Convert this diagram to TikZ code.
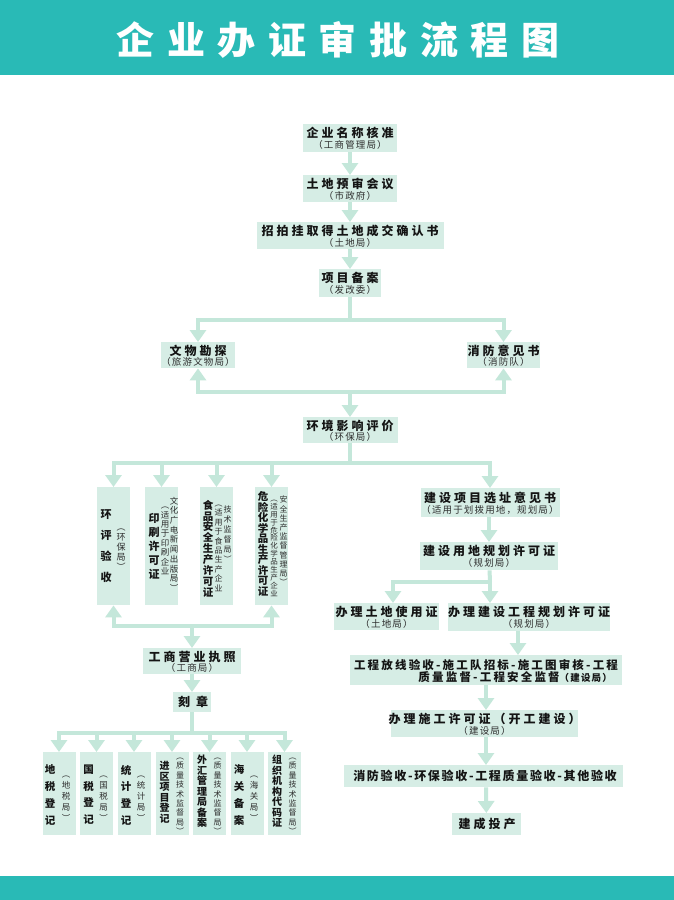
\documentclass[tikz,border=0pt]{standalone}
\usepackage{fontspec}
\usetikzlibrary{arrows.meta}
\newfontfamily\cjk{Noto Sans CJK SC}
\definecolor{bandc}{RGB}{41,186,182}
\definecolor{boxc}{RGB}{214,237,229}
\definecolor{arrc}{RGB}{196,231,218}
\definecolor{mainc}{RGB}{20,20,20}
\definecolor{subc}{RGB}{45,45,45}
\newcommand\fm[2]{\cjk\bfseries\fontsize{#1}{#1}\selectfont\addfontfeature{LetterSpace=#2}}
\newcommand\fs[2]{\cjk\fontsize{#1}{#1}\selectfont\addfontfeature{LetterSpace=#2}}
\newcommand\vfm[2]{\cjk\bfseries\fontsize{#1}{#2}\selectfont\lineskiplimit=-50pt\lineskip=0pt\relax}
\newcommand\vfs[2]{\cjk\fontsize{#1}{#2}\selectfont\lineskiplimit=-50pt\lineskip=0pt\relax}
\tikzset{
  boxs/.style={fill=boxc, draw=none, inner sep=0pt, rectangle},
  mtxt/.style={inner sep=0pt, text=mainc, font=\fm{12}{25}},
  stxt/.style={inner sep=0pt, text=subc, font=\fs{9.5}{12}},
  vtxt/.style={inner sep=0pt, align=center},
  ln/.style={draw=arrc, line width=4pt},
  arr/.style={draw=arrc, line width=4pt, -{Triangle[width=16pt,length=12pt]}},
}
% name, cx, top, w, h, main, sub
\newcommand\hbx[7]{%
  \node[boxs, minimum width=#4pt, minimum height=#5pt, anchor=north] (#1) at (#2,#3) {};
  \node[mtxt] (#1m) at (#2,{#3+0.33*#5}) {#6};
  \node[stxt] (#1s) at (#2,{#3+0.76*#5}) {#7};
}
% name, x, first char centre, font size, pitch, text
\newcommand\vcm[6]{\node[vtxt, text=mainc, font=\vfm{#4}{#5}, anchor=north] (#1) at (#2,{#3-0.5*#4}) {\vphantom{国}#6};}
\newcommand\vcs[6]{\node[vtxt, text=subc, font=\vfs{#4}{#5}, anchor=north] (#1) at (#2,{#3-0.5*#4}) {\vphantom{国}#6};}
% name, cx, top, w, h
\newcommand\vbx[5]{\node[boxs, minimum width=#4pt, minimum height=#5pt, anchor=north] (#1) at (#2,#3) {};}

\begin{document}
\begin{tikzpicture}[x=1pt,y=-1pt]
\useasboundingbox (0,0) rectangle (674,900);
\fill[white] (0,0) rectangle (674,900);
\node[fill=bandc, inner sep=0pt, minimum width=674pt, minimum height=75pt, anchor=north west] (band) at (0,0) {};
\node[fill=bandc, inner sep=0pt, minimum width=674pt, minimum height=24pt, anchor=north west] (bandb) at (0,876) {};
\node[inner sep=0pt, text=white, font=\fm{38}{33}] (title) at (338,40) {企业办证审批流程图};

% top chain
\hbx{b1}{350}{124}{94}{28}{企业名称核准}{（工商管理局）}
\hbx{b2}{350}{175}{94}{27}{土地预审会议}{（市政府）}
\hbx{b3}{350}{222}{187}{27}{招拍挂取得土地成交确认书}{（土地局）}
\hbx{b4}{350}{269}{62}{28}{项目备案}{（发改委）}
\hbx{ww}{198}{342}{74}{26}{文物勘探}{（旅游文物局）}
\hbx{xf}{503.5}{342}{73}{26}{消防意见书}{（消防队）}
\hbx{hj}{350}{417}{95}{26}{环境影响评价}{（环保局）}

% left vertical boxes
\vbx{L1}{113.5}{487}{33}{118}
\vbx{L2}{161.5}{487}{33}{118}
\vbx{L3}{216.5}{487}{33}{118}
\vbx{L4}{271.5}{487}{33}{118}
\vcm{L1m}{106}{515}{11}{21}{环\\评\\验\\收}
\vcs{L1s}{121}{528}{9}{10}{︵\\环\\保\\局\\︶}
\vcm{L2m}{154}{519}{11}{14}{印\\刷\\许\\可\\证}
\vcs{L2a}{165}{506}{8.5}{9.4}{︵\\适\\用\\于\\印\\刷\\企\\业}
\vcs{L2b}{174}{501}{8.5}{9.7}{文\\化\\广\\电\\新\\闻\\出\\版\\局\\︶}
\vcm{L3m}{208}{505}{10.5}{10.9}{食\\品\\安\\全\\生\\产\\许\\可\\证}
\vcs{L3a}{218.5}{504}{8}{9.4}{︵\\适\\用\\于\\食\\品\\生\\产\\企\\业}
\vcs{L3b}{227.5}{510}{8}{10}{技\\术\\监\\督\\局\\︶}
\vcm{L4m}{263}{497}{10.5}{10.5}{危\\险\\化\\学\\品\\生\\产\\许\\可\\证}
\vcs{L4a}{274}{499}{7.5}{7.9}{︵\\适\\用\\于\\危\\险\\化\\学\\品\\生\\产\\企\\业}
\vcs{L4b}{283.5}{500}{8}{9.2}{安\\全\\生\\产\\监\\督\\管\\理\\局\\︶}

\hbx{gs}{192}{648}{98}{26}{工商营业执照}{（工商局）}
\node[boxs, minimum width=38pt, minimum height=20pt, anchor=north] (kz) at (192,692) {};
\node[mtxt, font=\fm{12}{50}] (kzm) at (193,702) {刻章};

% bottom row
\vbx{D1}{59}{752}{33}{83}
\vbx{D2}{96.5}{752}{33}{83}
\vbx{D3}{134}{752}{33}{83}
\vbx{D4}{172}{752}{33}{83}
\vbx{D5}{209.5}{752}{33}{83}
\vbx{D6}{247}{752}{33}{83}
\vbx{D7}{284.5}{752}{33}{83}
\vcm{D1m}{50}{770}{10.5}{16.7}{地\\税\\登\\记}
\vcs{D1s}{66}{775}{8.5}{11}{︵\\地\\税\\局\\︶}
\vcm{D2m}{88.5}{770}{10.5}{16.7}{国\\税\\登\\记}
\vcs{D2s}{103.5}{775}{8.5}{11}{︵\\国\\税\\局\\︶}
\vcm{D3m}{126}{770}{10.5}{16.7}{统\\计\\登\\记}
\vcs{D3s}{141}{775}{8.5}{11}{︵\\统\\计\\局\\︶}
\vcm{D4m}{164.5}{766}{10}{10.5}{进\\区\\项\\目\\登\\记}
\vcs{D4s}{180}{757}{8}{9.4}{︵\\质\\量\\技\\术\\监\\督\\局\\︶}
\vcm{D5m}{202}{760}{10}{10.5}{外\\汇\\管\\理\\局\\备\\案}
\vcs{D5s}{217.5}{757}{8}{9.4}{︵\\质\\量\\技\\术\\监\\督\\局\\︶}
\vcm{D6m}{239}{770}{10.5}{16.7}{海\\关\\备\\案}
\vcs{D6s}{254}{775}{8.5}{11}{︵\\海\\关\\局\\︶}
\vcm{D7m}{277}{760}{10}{10.5}{组\\织\\机\\构\\代\\码\\证}
\vcs{D7s}{292.5}{757}{8}{9.4}{︵\\质\\量\\技\\术\\监\\督\\局\\︶}

% right chain
\hbx{R1}{490}{488}{139}{29}{建设项目选址意见书}{（适用于划拨用地，规划局）}
\hbx{R2}{489}{542}{138}{28}{建设用地规划许可证}{（规划局）}
\hbx{R3}{386.5}{603}{105}{27}{办理土地使用证}{（土地局）}
\hbx{R4}{529}{603}{162}{28}{办理建设工程规划许可证}{（规划局）}
\node[boxs, minimum width=272pt, minimum height=30pt, anchor=north] (R5) at (486,655) {};
\node[mtxt, font=\fm{11.5}{19}] (R5a) at (486,665) {工程放线验收-施工队招标-施工图审核-工程};
\node[mtxt, font=\fm{11.5}{19}, anchor=east] (R5b) at (612,677) {质量监督-工程安全监督{\fs{9.5}{12}（建设局）}};
\hbx{R6}{484.5}{710}{187}{27}{办理施工许可证（开工建设）}{（建设局）}
\node[boxs, minimum width=279pt, minimum height=22pt, anchor=north] (R7) at (483.5,765) {};
\node[mtxt, font=\fm{12}{14}] (R7m) at (485,776) {消防验收-环保验收-工程质量验收-其他验收};
\node[boxs, minimum width=69pt, minimum height=22pt, anchor=north] (R8) at (486.5,813) {};
\node[mtxt] (R8m) at (487,824) {建成投产};

% connector junctions
\coordinate (s1) at (350,320);
\coordinate (s2) at (350,392);
\coordinate (s3) at (350,463);
\coordinate (s4) at (192,626);
\coordinate (s5) at (192,733);
\coordinate (s6) at (490,582);

\draw[arr] (b1) -- (b2);
\draw[arr] (b2) -- (b3);
\draw[arr] (b3) -- (b4);
\draw[ln] (b4) -- (s1);
\draw[arr] (s1) -| (ww);
\draw[arr] (s1) -| (xf);
\draw[arr] (s2) -| (ww);
\draw[arr] (s2) -| (xf);
\draw[arr] (s2) -- (hj);
\draw[ln] (hj) -- (s3);
\draw[arr] (s3) -| (L1);
\draw[arr] (s3) -| (L2);
\draw[arr] (s3) -| (L3);
\draw[arr] (s3) -| (L4);
\draw[arr] (s3) -| (R1);
\draw[arr] (s4) -| (L1);
\draw[arr] (s4) -| (L4);
\draw[arr] (s4) -- (gs);
\draw[arr] (gs) -- (kz);
\draw[ln] (kz) -- (s5);
\draw[arr] (s5) -| (D1);
\draw[arr] (s5) -| (D2);
\draw[arr] (s5) -| (D3);
\draw[arr] (s5) -| (D4);
\draw[arr] (s5) -| (D5);
\draw[arr] (s5) -| (D6);
\draw[arr] (s5) -| (D7);
\draw[arr] (R1.south -| R2.north) -- (R2);
\draw[ln] (R2) -- (s6);
\draw[arr] (s6) -| ([xshift=6.5pt]R3.north);
\draw[arr] (s6) -- (s6 |- R4.north);
\draw[arr] ([xshift=-11pt]R4.south) -- ([xshift=-11pt]R4.south |- R5.north);
\draw[arr] (R5.south) -- (R5.south |- R6.north);
\draw[arr] (R5.south |- R6.south) -- (R5.south |- R7.north);
\draw[arr] (R5.south |- R7.south) -- (R8);
\end{tikzpicture}
\end{document}
